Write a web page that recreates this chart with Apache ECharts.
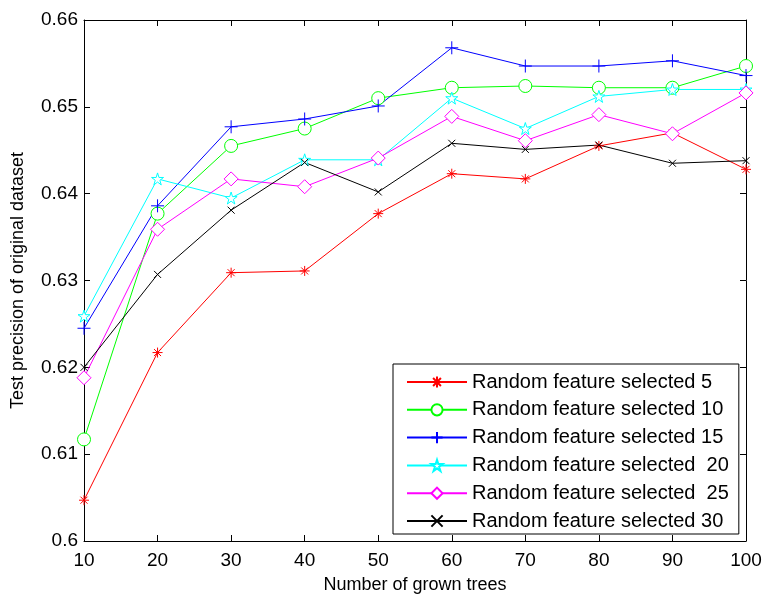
<!DOCTYPE html>
<html>
<head>
<meta charset="utf-8">
<script src="https://cdn.jsdelivr.net/npm/echarts@6/dist/echarts.min.js"></script>
<style>
html, body { margin: 0; padding: 0; background: #fff; }
#chart { width: 763px; height: 594px; }
</style>
</head>
<body>
<div id="chart"></div>
<script>
var trees = [10, 20, 30, 40, 50, 60, 70, 80, 90, 100];
var names = ['Random feature selected 5', 'Random feature selected 10', 'Random feature selected 15',
	'Random feature selected  20', 'Random feature selected  25', 'Random feature selected 30'];
var sel5 = [0.6047, 0.6217, 0.6309, 0.6311, 0.6377, 0.6423, 0.6417, 0.6455, 0.6470, 0.6428];
var sel10 = [0.6117, 0.6377, 0.6455, 0.6475, 0.6510, 0.6522, 0.6524, 0.6522, 0.6522, 0.6547];
var sel15 = [0.6245, 0.6386, 0.6477, 0.6486, 0.6501, 0.6568, 0.6547, 0.6547, 0.6553, 0.6536];
var sel20 = [0.6259, 0.6417, 0.6395, 0.6439, 0.6439, 0.6510, 0.6475, 0.6512, 0.6520, 0.6520];
var sel25 = [0.6188, 0.6359, 0.6417, 0.6408, 0.6441, 0.6489, 0.6461, 0.6491, 0.6469, 0.6516];
var sel30 = [0.6200, 0.6307, 0.6381, 0.6436, 0.6402, 0.6458, 0.6451, 0.6456, 0.6435, 0.6438];

var FONT = 'Liberation Sans';
var colors = ['#ff0000', '#00ff00', '#0000ff', '#00ffff', '#ff00ff', '#000000'];
// marker shapes like matlab: * o + pentagram diamond x
var symbols = [
	'path://M5,0L5,10M0,5L10,5M1.5,1.5L8.5,8.5M8.5,1.5L1.5,8.5',
	'circle',
	'path://M5,0L5,10M0,5L10,5',
	'path://M50,0L61.2,34.5L97.6,34.5L68.2,55.9L79.4,90.5L50,69.1L20.6,90.5L31.8,55.9L2.4,34.5L38.8,34.5Z',
	'diamond',
	'path://M0,0L10,10M10,0L0,10'
];
var sizes = [10, 13, 13, 12, 14, 7];
var hollow = [false, true, false, true, true, false];
var allData = [sel5, sel10, sel15, sel20, sel25, sel30];

var myChart = echarts.init(document.getElementById('chart'));

var series = [];
for (var i = 0; i < allData.length; i++) {
	series.push({
		name: names[i],
		type: 'line',
		data: trees.map(function (t, k) { return [t, allData[i][k]]; }),
		symbol: symbols[i],
		symbolSize: sizes[i],
		showAllSymbol: true,
		animation: false,
		lineStyle: { color: colors[i], width: 1 },
		itemStyle: { color: hollow[i] ? '#fff' : colors[i], borderColor: colors[i], borderWidth: 1 },
		emphasis: { disabled: true }
	});
}

var tickStyle = { show: true, inside: true, length: 6, lineStyle: { color: '#000' } };
var option = {
	backgroundColor: '#fff',
	animation: false,
	grid: { left: 84, right: 17, top: 20, bottom: 53, outerBoundsMode: 'none' },
	legend: {
		orient: 'vertical',
		left: 393,
		top: 364,
		data: names,
		itemWidth: 60,
		itemHeight: 14,
		itemGap: 7.8,
		padding: [8, 10, 3, 13],
		borderColor: '#000',
		borderWidth: 1,
		backgroundColor: '#fff',
		textStyle: { fontFamily: FONT, fontSize: 20, color: '#000' }
	},
	xAxis: [{
		type: 'value', min: 10, max: 100, interval: 10,
		name: 'Number of grown trees', nameLocation: 'middle', nameGap: 35,
		nameTextStyle: { fontFamily: FONT, fontSize: 18, color: '#000' },
		axisLine: { lineStyle: { color: '#000' } },
		axisTick: tickStyle,
		splitLine: { show: false },
		axisLabel: { fontFamily: FONT, fontSize: 19, color: '#000', margin: 10 }
	}, {
		type: 'value', position: 'top', min: 10, max: 100, interval: 10,
		axisLine: { show: true, lineStyle: { color: '#000' } },
		axisTick: tickStyle, axisLabel: { show: false }, splitLine: { show: false }
	}],
	yAxis: [{
		type: 'value', min: 0.6, max: 0.66, interval: 0.01,
		name: 'Test precision of original dataset', nameLocation: 'middle', nameGap: 57,
		nameTextStyle: { fontFamily: FONT, fontSize: 18, color: '#000' },
		axisLine: { show: true, lineStyle: { color: '#000' } },
		axisTick: tickStyle,
		splitLine: { show: false },
		axisLabel: { fontFamily: FONT, fontSize: 19, color: '#000', margin: 6 }
	}, {
		type: 'value', position: 'right', min: 0.6, max: 0.66, interval: 0.01,
		axisLine: { show: true, lineStyle: { color: '#000' } },
		axisTick: tickStyle, axisLabel: { show: false }, splitLine: { show: false }
	}],
	series: series
};
myChart.setOption(option);
</script>
</body>
</html>
